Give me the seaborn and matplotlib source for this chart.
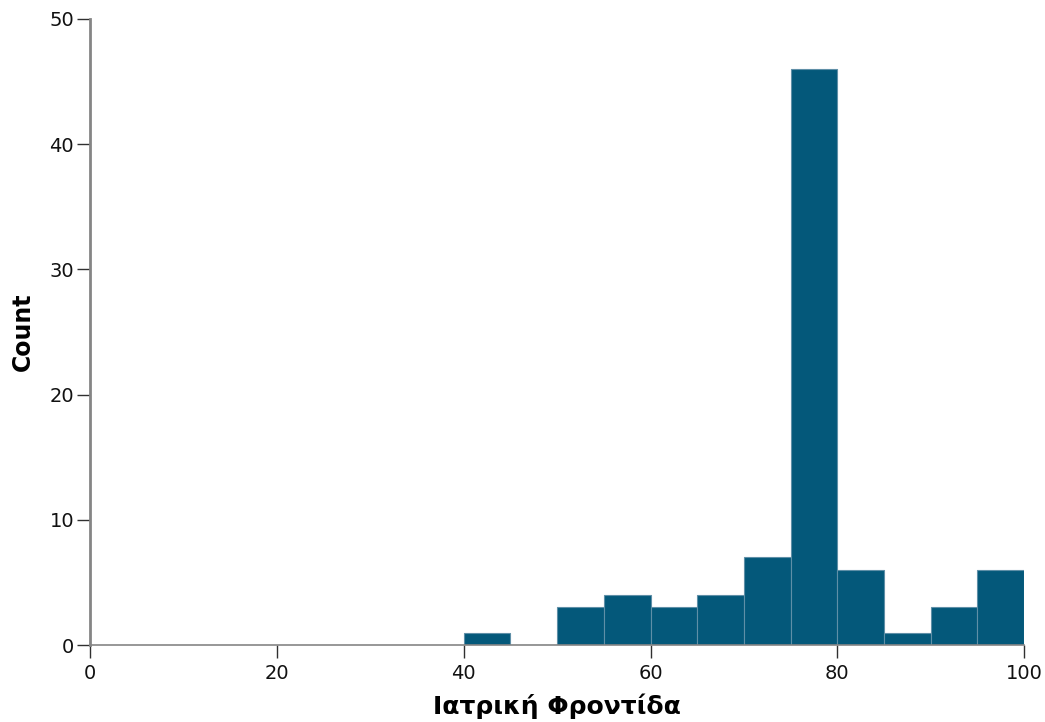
import numpy as np
import pandas as pd
import matplotlib
matplotlib.use("Agg")
import matplotlib.pyplot as plt
import seaborn as sns

# Histogram of "Ιατρική Φροντίδα" scores, bins of width 5
bin_edges = [40, 45, 50, 55, 60, 65, 70, 75, 80, 85, 90, 95, 100]
counts = [1, 0, 3, 4, 3, 4, 7, 46, 6, 1, 3, 6]
x_ticks = [0, 20, 40, 60, 80, 100]
y_ticks = [0, 10, 20, 30, 40, 50]

x_label = "Ιατρική Φροντίδα"
y_label = "Count"

bar_color = "#04587a"
edge_color = "#5f8fa7"
spine_color = "#858585"

sns.set_theme(style="white")
plt.rcParams['font.family'] = ['DejaVu Sans']

centers = [(a + b) / 2 for a, b in zip(bin_edges[:-1], bin_edges[1:])]
df = pd.DataFrame({"score": centers, "n": counts})

fig = plt.figure(figsize=(10.45, 7.22), dpi=100)
ax = fig.add_axes([0.0861, 0.1066, 0.8940, 0.8671])

sns.histplot(data=df, x="score", weights="n", bins=bin_edges, ax=ax,
             color=bar_color, edgecolor=edge_color, linewidth=0.8, alpha=1.0)

ax.set_xlim(0, 100)
ax.set_ylim(0, 50)
ax.set_xticks(x_ticks)
ax.set_yticks(y_ticks)

for side in ["top", "right"]:
    ax.spines[side].set_visible(False)
ax.spines["left"].set_color(spine_color)
ax.spines["left"].set_linewidth(2.0)
ax.spines["bottom"].set_color(spine_color)
ax.spines["bottom"].set_linewidth(1.2)

ax.tick_params(axis="both", which="major", direction="out", length=9.5, width=1.0,
               color="#303030", labelsize=14, labelcolor="#111111", pad=2,
               left=True, bottom=True)
ax.tick_params(axis="x", pad=4)

ax.set_xlabel(x_label, fontsize=18, fontweight="bold", labelpad=8, color="black")
ax.set_ylabel(y_label, fontsize=17, fontweight="bold", labelpad=10, color="black")

fig.savefig("out.png", dpi=100)
plt.close(fig)
